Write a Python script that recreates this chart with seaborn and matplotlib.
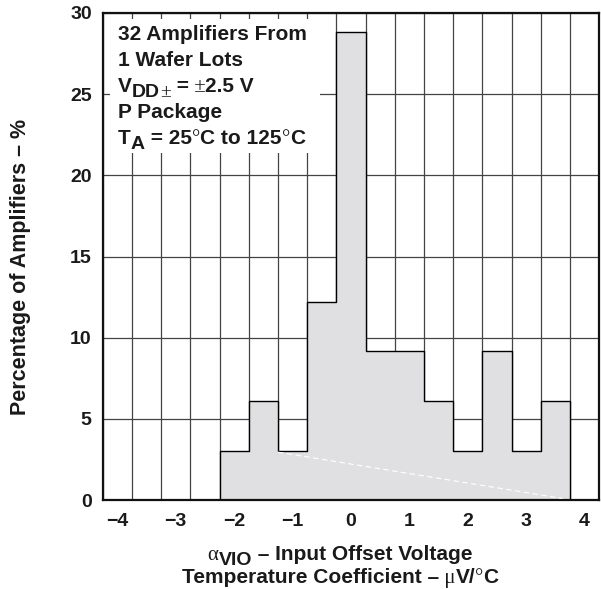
import numpy as np
import pandas as pd
import matplotlib
matplotlib.use("Agg")
import matplotlib.pyplot as plt
import seaborn as sns
from matplotlib.patches import Rectangle
from matplotlib.transforms import offset_copy

# bin centres (uV/degC) and percentage of amplifiers in each bin
bin_centers = [-4.0, -3.5, -3.0, -2.5, -2.0, -1.5, -1.0, -0.5, 0.0, 0.5,
               1.0, 1.5, 2.0, 2.5, 3.0, 3.5, 4.0]
percent = [0.0, 0.0, 0.0, 0.0, 3.0, 6.1, 3.0, 12.2, 28.8, 9.2,
           9.2, 6.1, 3.0, 9.2, 3.0, 6.1, 0.0]
bin_edges = [round(-4.25 + 0.5 * i, 2) for i in range(18)]
x_ticks = [-4, -3, -2, -1, 0, 1, 2, 3, 4]
x_ticklabels = ["\u22124", "\u22123", "\u22122", "\u22121", "0", "1", "2", "3", "4"]
y_ticks = [0, 5, 10, 15, 20, 25, 30]

# text runs: (string, role)  role -> main / sub / sym / subsym
info_lines = [
    [("32 Amplifiers From", "main")],
    [("1 Wafer Lots", "main")],
    [("V", "main"), ("DD", "sub"), ("\u00b1", "subsym"), (" =", "main"),
     (" \u00b1", "sym"), ("2.5 V", "main")],
    [("P Package", "main")],
    [("T", "main"), ("A", "sub"), (" = 25", "main"), ("\u00b0", "sym"),
     ("C to 125", "main"), ("\u00b0", "sym"), ("C", "main")],
]
xlabel_line1 = [("\u03b1", "sym"), ("VIO", "sub"),
                (" \u2013 Input Offset Voltage", "main")]
xlabel_line2 = [("Temperature Coefficient \u2013", "main"), (" \u03bc", "sym"),
                ("V/", "main"), ("\u00b0", "sym"), ("C", "main")]
ylabel_text = "Percentage of Amplifiers \u2013 %"

INK = "#1a1a1a"
ROLES = {
    "main": dict(size=15, family="Liberation Sans", weight="bold", dy=0),
    "sub": dict(size=14, family="Liberation Sans", weight="bold", dy=-3.5),
    "sym": dict(size=15, family="Liberation Serif", weight="normal", dy=0),
    "subsym": dict(size=14, family="Liberation Serif", weight="normal", dy=-3.5),
}


def draw_runs(ax, x, y, runs, base, ha="left"):
    fig = ax.figure
    renderer = fig.canvas.get_renderer()
    placed = []
    dx = 0.0
    for txt, role in runs:
        st = ROLES[role]
        t = ax.text(x, y, txt, fontsize=st["size"], family=st["family"],
                    fontweight=st["weight"], va="baseline", ha="left",
                    color=INK, zorder=4, clip_on=False,
                    transform=offset_copy(base, fig=fig, x=dx, y=st["dy"],
                                          units="points"))
        placed.append((t, dx, st["dy"]))
        dx += t.get_window_extent(renderer).width * 72.0 / fig.dpi
    if ha == "center":
        for t, off, dy in placed:
            t.set_transform(offset_copy(base, fig=fig, x=off - dx / 2, y=dy,
                                        units="points"))


df = pd.DataFrame({"tc": bin_centers, "pct": percent})

sns.set_style("ticks")
plt.rcParams["font.family"] = ["Liberation Sans", "DejaVu Sans"]
plt.rcParams["font.weight"] = "bold"

fig = plt.figure(figsize=(6.01, 5.89), dpi=100)
ax = fig.add_axes([0.171, 0.151, 0.826, 0.827])

sns.histplot(data=df, x="tc", weights="pct", bins=bin_edges, element="step",
             fill=True, color="#e0e0e2", alpha=1, edgecolor="black",
             linewidth=1.0, ax=ax, zorder=2)

# faint white rendering streak seen in the original
ax.plot([-1.25, 3.62], [2.95, 0.1], color="white", lw=0.8,
        ls=(0, (5, 3)), zorder=3)

ax.set_xlim(-4.25, 4.25)
ax.set_ylim(0, 30)
ax.set_xticks(x_ticks)
ax.set_xticklabels(x_ticklabels)
ax.set_xticks(bin_edges, minor=True)
ax.set_yticks(y_ticks)
ax.tick_params(axis="both", which="both", length=0, labelsize=14,
               colors=INK)
ax.tick_params(axis="x", pad=9)
ax.tick_params(axis="y", pad=8)
for lbl in ax.get_xticklabels() + ax.get_yticklabels():
    lbl.set_fontweight("bold")

ax.set_axisbelow(True)
ax.grid(False)
ax.xaxis.grid(True, which="minor", color="#444444", lw=0.9)
ax.yaxis.grid(True, which="major", color="#444444", lw=0.9)

for s in ax.spines.values():
    s.set_visible(True)
    s.set_color("#111111")
    s.set_linewidth(1.6)

# white panel behind the annotation
ax.add_patch(Rectangle((-4.13, 21.4), 3.6, 8.2, facecolor="white",
                       edgecolor="none", zorder=1.5))
y_base = [28.34, 26.74, 25.14, 23.54, 21.94]
for yy, runs in zip(y_base, info_lines):
    draw_runs(ax, -3.99, yy, runs, ax.transData)

ax.set_ylabel(ylabel_text, fontsize=15.5, fontweight="bold", color=INK)
ax.yaxis.set_label_coords(-0.145, 0.478)
ax.set_xlabel("")

draw_runs(ax, 0.566, 1 - 560 / 589, xlabel_line1, fig.transFigure, ha="center")
draw_runs(ax, 0.566, 1 - 583 / 589, xlabel_line2, fig.transFigure, ha="center")

fig.savefig("out.png", dpi=100)
